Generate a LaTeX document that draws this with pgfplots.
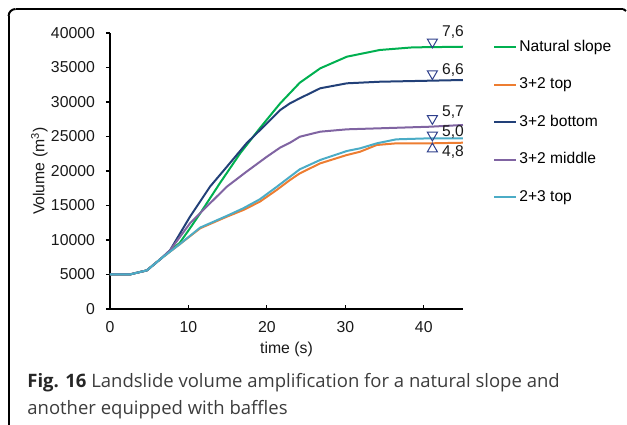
\documentclass[border=0pt]{standalone}
\usepackage{fontspec}
\setmainfont{Liberation Sans}
\newfontfamily\capfont{Open Sans}
\usepackage{pgfplots}
\usepackage{pgfplotstable}
\pgfplotsset{compat=1.18}

\definecolor{cNat}{RGB}{0,176,80}
\definecolor{cTop}{RGB}{237,125,49}
\definecolor{cBot}{RGB}{34,64,120}
\definecolor{cMid}{RGB}{128,100,162}
\definecolor{cTopB}{RGB}{75,172,198}
\definecolor{cMark}{RGB}{47,64,140}
\definecolor{capgray}{RGB}{60,60,60}

% time (s) / volume (m3)
\pgfplotstableread{
t v
0 5000
2.5 5000
4.7 5600
6.5 7300
8.9 9600
10.2 11700
11.5 13870
14.0 18220
16.6 22570
19.1 26200
21.7 29810
24.2 32800
26.8 34880
30.2 36570
34.4 37540
38.6 37920
45 38010
}\natural

\pgfplotstableread{
t v
0 5000
2.5 5000
4.7 5600
6.5 7300
8.9 9400
11.5 11700
14.9 13380
17.0 14350
19.1 15550
21.25 17250
22.95 18700
24.2 19660
26.8 21110
30.2 22320
31.9 22800
34.0 23770
36.5 24010
40.8 24010
45 24100
}\topA

\pgfplotstableread{
t v
0 5000
2.5 5000
4.7 5600
6.5 7300
7.65 8500
10.2 13380
12.75 17730
14.9 20620
17.4 24010
19.1 25900
20.0 26910
21.7 28840
22.95 29810
24.2 30540
26.8 31990
30.2 32710
34.4 32940
40.8 33090
45 33190
}\bottomA

\pgfplotstableread{
t v
0 5000
2.5 5000
4.7 5600
6.5 7300
7.65 8500
10.2 12420
12.75 15320
14.9 17730
17.4 19900
20.0 22070
21.7 23400
22.95 24100
24.2 24970
26.8 25700
30.2 26040
34.4 26190
40.8 26420
45 26670
}\middleA

\pgfplotstableread{
t v
0 5000
2.5 5000
4.7 5600
6.5 7300
8.9 9400
11.5 11800
14.9 13500
17.0 14600
19.1 15900
21.25 17700
22.95 19170
24.2 20250
26.8 21600
30.2 22900
31.9 23290
34.0 24010
36.5 24590
40.8 24740
45 24740
}\topB

\begin{document}
\begin{tikzpicture}
% page: 627x425 px at 0.5pt per px
\path (0pt,0pt) rectangle (313.5pt,212.5pt);

\begin{axis}[
    at={(55pt,58pt)}, anchor=south west,
    scale only axis, width=176.5pt, height=138pt,
    xmin=0, xmax=45, ymin=0, ymax=40000,
    axis lines=left,
    axis line style={-, line width=0.6pt},
    xtick={0,10,20,30,40},
    ytick={0,5000,10000,15000,20000,25000,30000,35000,40000},
    xtick align=inside, ytick align=outside,
    major tick length=2pt,
    tick style={black, line width=0.6pt},
    scaled y ticks=false,
    /pgf/number format/1000 sep={},
    /pgf/number format/assume math mode=true,
    tick label style={font=\fontsize{7.9}{9}\selectfont, text=black!90},
    yticklabel style={xshift=-2pt},
    xticklabel style={yshift=-2.8pt},
    xlabel={time (s)},
    ylabel={Volume (m\textsuperscript{3})},
    label style={font=\fontsize{7.9}{9}\selectfont, text=black!90},
    xlabel style={at={(axis description cs:0.5,-0.145)}, anchor=center},
    ylabel style={at={(axis description cs:-0.2,0.5)}, anchor=center},
    clip=false,
    legend cell align=left,
    legend style={
        at={(axis description cs:1.085,0.984)}, anchor=north west,
        draw=none, fill=none, inner sep=0pt,
        font=\fontsize{7.8}{9}\selectfont,
        row sep=9.35pt,
        nodes={inner sep=1pt, text height=5.8pt, text depth=1.6pt},
    },
    legend image code/.code={\draw[#1] (0pt,0pt) -- (11pt,0pt);},
    every axis plot/.append style={line width=1pt},
]
\addplot[cNat] table[x=t,y=v] {\natural};
\addlegendentry{Natural slope}
\addplot[cTop] table[x=t,y=v] {\topA};
\addlegendentry{3+2 top}
\addplot[cBot] table[x=t,y=v] {\bottomA};
\addlegendentry{3+2 bottom}
\addplot[cMid] table[x=t,y=v] {\middleA};
\addlegendentry{3+2 middle}
\addplot[cTopB] table[x=t,y=v] {\topB};
\addlegendentry{2+3 top}

% amplification markers
\addplot[only marks, mark=triangle, mark size=2.9pt,
    mark options={draw=cMark, fill=white, line width=0.5pt, rotate=180},
    forget plot] coordinates {(41.1,38700) (41.1,34100) (41.1,27600) (41.1,25200)};
\addplot[only marks, mark=triangle, mark size=2.9pt,
    mark options={draw=cMark, fill=white, line width=0.5pt},
    forget plot] coordinates {(41.1,23200)};

\begin{scope}[every node/.style={anchor=west, inner sep=0pt, font=\fontsize{7.8}{9}\selectfont, text=black!90}]
\node at (axis cs:42.3,40100) {7,6};
\node at (axis cs:42.3,34640) {6,6};
\node at (axis cs:42.3,28550) {5,7};
\node at (axis cs:42.3,25700) {5,0};
\node at (axis cs:42.3,22800) {4,8};
\end{scope}
\end{axis}

\node[anchor=base west, inner sep=0pt, font=\capfont\fontsize{9.25}{11}\selectfont, text=capgray]
  at (13.5pt,18.5pt) {\textbf{\color{black!85}Fig. 16} Landslide volume amplification for a natural slope and};
\node[anchor=base west, inner sep=0pt, font=\capfont\fontsize{9.25}{11}\selectfont, text=capgray]
  at (13.5pt,5pt) {another equipped with baffles};

% outer frame of the figure panel (left side and top, rounded top-left corner)
\fill[black] (3.8pt,0pt) rectangle (4.8pt,204.5pt);
\fill[black] (7.8pt,207.5pt) rectangle (311.6pt,208.5pt);
\draw[black, line width=1pt] (4.3pt,204.5pt) arc[start angle=180, end angle=90, radius=3.5pt];
\draw[black, line width=1pt] (311.6pt,208pt) arc[start angle=90, end angle=20, radius=1.5pt];
\end{tikzpicture}
\end{document}
